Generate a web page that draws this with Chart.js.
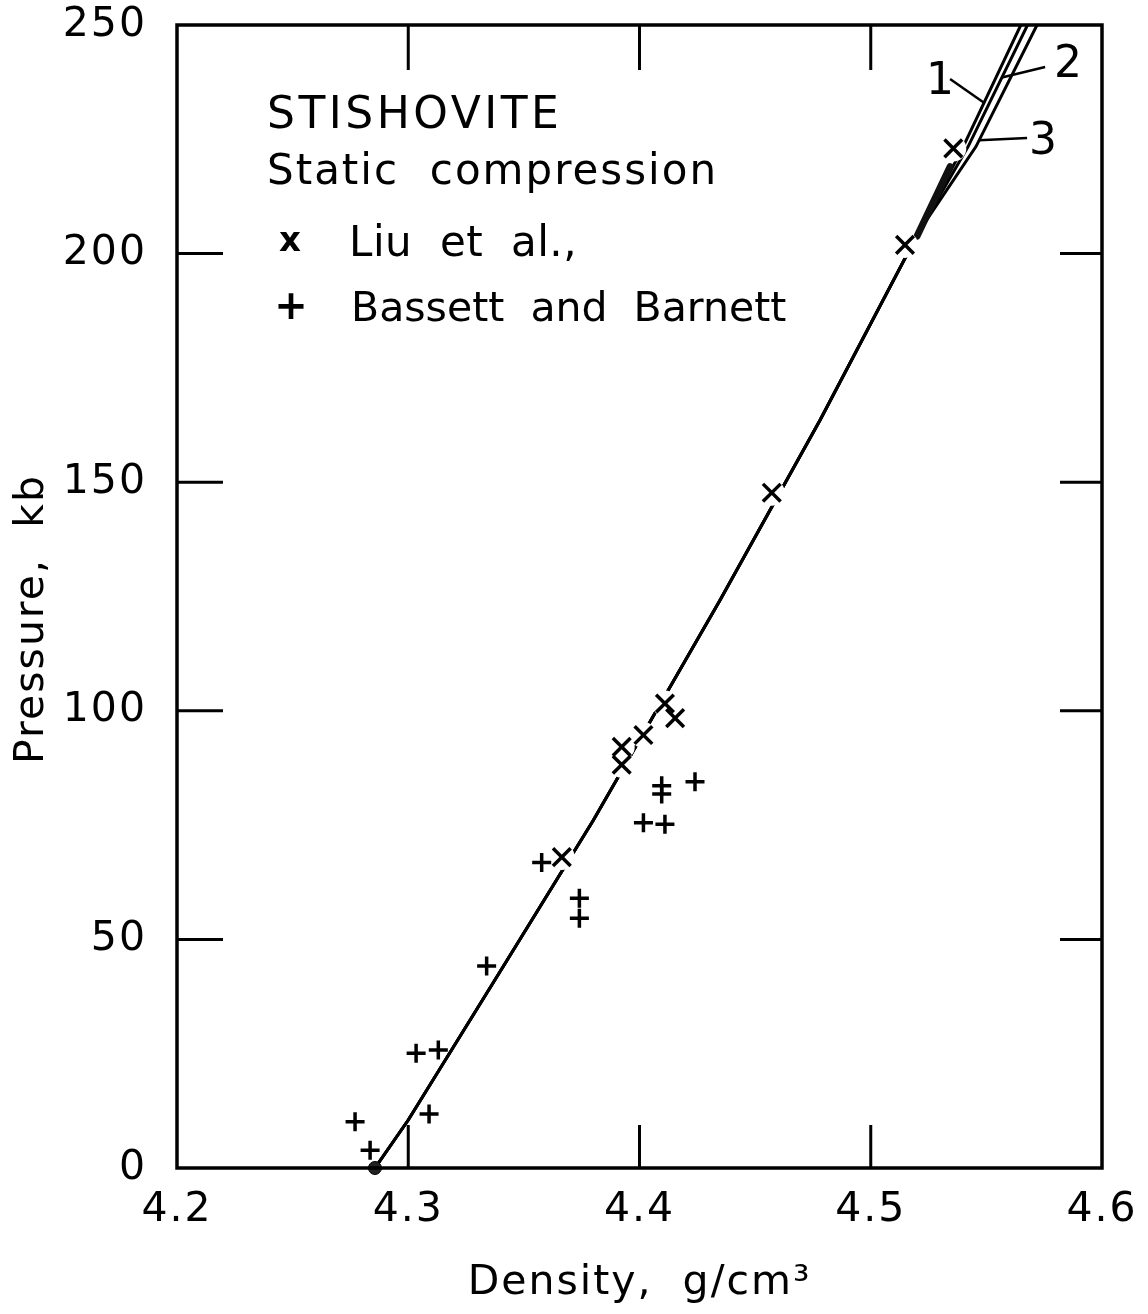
<!DOCTYPE html>
<html>
<head>
<meta charset="utf-8">
<script src="https://cdn.jsdelivr.net/npm/chart.js@4.4.0/dist/chart.umd.min.js"></script>
<style>
html,body{margin:0;padding:0;background:#fff;}
#wrap{width:1148px;height:1314px;position:relative;}
</style>
</head>
<body>
<div id="wrap"><canvas id="c"></canvas></div>
<script>
// ---- tick labels ----
const xTicks = [4.2, 4.3, 4.4, 4.5, 4.6];
const yTicks = [0, 50, 100, 150, 200, 250];

// ---- Liu et al. (x) ----
const liuDensity  = [4.3664, 4.3923, 4.3923, 4.4017, 4.4110, 4.4154, 4.4572, 4.5148, 4.5357];
const liuPressure = [68.0, 92.1, 88.2, 94.7, 101.6, 98.4, 147.7, 201.9, 223.0];

// ---- Bassett and Barnett (+) ----
const bbDensity  = [4.2770, 4.2835, 4.3034, 4.3130, 4.3090, 4.3339, 4.3577, 4.3740, 4.3740, 4.4017, 4.4110, 4.4096, 4.4096, 4.4240];
const bbPressure = [10.1, 3.9, 25.1, 25.8, 11.8, 44.2, 66.8, 59.0, 54.6, 75.5, 75.2, 83.6, 81.8, 84.5];

// ---- zero-pressure density ----
const zeroDensity  = [4.2856];
const zeroPressure = [0];

// ---- fitted compression curves 1, 2, 3 ----
const curve1Density  = [4.2856, 4.300, 4.340, 4.3801, 4.4348, 4.4781, 4.5213, 4.5400, 4.5649];
const curve1Pressure = [0, 10.5, 43.2, 76.1, 124.2, 163.6, 205.2, 223.4, 250];
const curve2Density  = [4.2856, 4.300, 4.340, 4.3801, 4.4348, 4.4781, 4.5213, 4.5421, 4.5678];
const curve2Pressure = [0, 10.5, 43.2, 76.1, 124.2, 163.6, 205.2, 223.4, 250];
const curve3Density  = [4.2856, 4.300, 4.340, 4.3801, 4.4348, 4.4781, 4.5213, 4.5455, 4.5719];
const curve3Pressure = [0, 10.5, 43.2, 76.1, 124.2, 163.6, 205.2, 223.4, 250];

// ---- overlapping band where the curves merge ----
const bandDensity  = [4.5200, 4.5343];
const bandPressure = [203.8, 219.0];

const curveNames = ['1', '2', '3'];

const FONT = "'DejaVu Sans', 'Liberation Sans', sans-serif";
const pts = (xs, ys) => xs.map((x, i) => ({x: x, y: ys[i]}));

function densityOnCurve(dens, pres, p) {
  for (let i = 1; i < pres.length; i++) {
    if (p <= pres[i]) {
      const t = (p - pres[i-1]) / (pres[i] - pres[i-1]);
      return dens[i-1] + t * (dens[i] - dens[i-1]);
    }
  }
  return dens[dens.length - 1];
}

// label annotations (data units): text position, leader start, pressure where leader meets curve
const curveLabelSpec = [
  {text: curveNames[0], tx: 4.5299, ty: 237.5, lx: 4.5343, ly: 238.2, curveP: 233.0, d: curve1Density, p: curve1Pressure},
  {text: curveNames[1], tx: 4.5853, ty: 241.2, lx: 4.5754, ly: 240.8, curveP: 238.5, d: curve2Density, p: curve2Pressure},
  {text: curveNames[2], tx: 4.5745, ty: 224.2, lx: 4.5676, ly: 225.3, curveP: 224.8, d: curve3Density, p: curve3Pressure}
];

const framePlugin = {
  id: 'frame',
  beforeDraw(chart) {
    chart.ctx.letterSpacing = '2px';
  },
  afterDraw(chart) {
    const ctx = chart.ctx;
    const a = chart.chartArea;
    const xs = chart.scales.x, ys = chart.scales.y;
    ctx.save();
    ctx.strokeStyle = '#000';
    ctx.fillStyle = '#000';
    ctx.lineWidth = 3.5;
    ctx.lineCap = 'square';
    ctx.strokeRect(a.left, a.top, a.right - a.left, a.bottom - a.top);
    ctx.lineWidth = 3;
    ctx.lineCap = 'butt';
    xTicks.slice(1, -1).forEach(v => {
      const px = xs.getPixelForValue(v);
      ctx.beginPath();
      ctx.moveTo(px, a.bottom); ctx.lineTo(px, a.bottom - 43);
      ctx.moveTo(px, a.top); ctx.lineTo(px, a.top + 45);
      ctx.stroke();
    });
    yTicks.slice(1, -1).forEach(v => {
      const py = ys.getPixelForValue(v);
      ctx.beginPath();
      ctx.moveTo(a.left, py); ctx.lineTo(a.left + 46, py);
      ctx.moveTo(a.right, py); ctx.lineTo(a.right - 42, py);
      ctx.stroke();
    });

    // curve labels and leaders
    ctx.letterSpacing = '0px';
    ctx.lineWidth = 2.5;
    ctx.font = '44px ' + FONT;
    ctx.textAlign = 'center';
    ctx.textBaseline = 'middle';
    curveLabelSpec.forEach(s => {
      const cx = densityOnCurve(s.d, s.p, s.curveP);
      ctx.beginPath();
      ctx.moveTo(xs.getPixelForValue(s.lx), ys.getPixelForValue(s.ly));
      ctx.lineTo(xs.getPixelForValue(cx), ys.getPixelForValue(s.curveP));
      ctx.stroke();
      ctx.fillText(s.text, xs.getPixelForValue(s.tx), ys.getPixelForValue(s.ty));
    });

    // legend block
    ctx.textAlign = 'left';
    ctx.font = '44px ' + FONT;
    ctx.letterSpacing = '3.5px';
    ctx.fillText('STISHOVITE', 267, 117);
    ctx.font = '42px ' + FONT;
    ctx.letterSpacing = '2px';
    ctx.fillText('Static  compression', 267, 173);
    ctx.letterSpacing = '0.5px';
    ctx.fillText('Liu  et  al.,', 349, 245);
    ctx.font = '41px ' + FONT;
    ctx.letterSpacing = '0px';
    ctx.fillText('Bassett  and  Barnett', 351, 310);
    ctx.textAlign = 'center';
    ctx.font = 'bold 34px ' + FONT;
    ctx.fillText('x', 290, 242);
    ctx.font = 'bold 40px ' + FONT;
    ctx.fillText('+', 291, 309);
    ctx.restore();
    ctx.letterSpacing = '0px';
  }
};

const lineDs = (label, xs, ys) => ({
  label: label, data: pts(xs, ys), showLine: true, borderColor: '#000', borderWidth: 3,
  pointRadius: 0, tension: 0, fill: false, order: 4
});

new Chart(document.getElementById('c'), {
  type: 'scatter',
  data: {
    datasets: [
      {label: 'Liu et al.', data: pts(liuDensity, liuPressure), pointStyle: 'crossRot', pointRadius: 12.5,
       borderColor: '#000', backgroundColor: '#000', pointBorderWidth: 3.5, order: 0},
      {label: 'Bassett and Barnett', data: pts(bbDensity, bbPressure), pointStyle: 'cross', pointRadius: 9.5,
       borderColor: '#000', backgroundColor: '#000', pointBorderWidth: 3.5, order: 0},
      {label: 'zero pressure', data: pts(zeroDensity, zeroPressure), pointStyle: 'circle', pointRadius: 6.5,
       borderColor: '#000', backgroundColor: '#222', pointBorderWidth: 1, clip: false, order: 0},
      {label: 'halo', data: pts(liuDensity, liuPressure), pointStyle: 'circle', pointRadius: 13,
       borderColor: '#fff', backgroundColor: '#fff', pointBorderWidth: 0, order: 1},
      {label: 'band', data: pts(bandDensity, bandPressure), showLine: true, borderColor: '#111', borderWidth: 7,
       borderCapStyle: 'round', pointRadius: 0, order: 2},
      lineDs('Curve 1', curve1Density, curve1Pressure),
      lineDs('Curve 2', curve2Density, curve2Pressure),
      lineDs('Curve 3', curve3Density, curve3Pressure)
    ]
  },
  options: {
    responsive: true,
    maintainAspectRatio: false,
    animation: false,
    devicePixelRatio: 1,
    layout: {padding: {top: 25, right: 46, left: 0, bottom: 0}},
    plugins: {legend: {display: false}, tooltip: {enabled: false}},
    scales: {
      x: {
        type: 'linear', position: 'bottom', min: 4.2, max: 4.6,
        afterBuildTicks: s => { s.ticks = xTicks.map(v => ({value: v})); },
        afterFit: s => { s.height = 146; s.paddingLeft = 0; s.paddingRight = 0; },
        grid: {display: false, drawTicks: false},
        border: {display: false},
        ticks: {color: '#000', padding: 18, maxRotation: 0, autoSkip: false,
                font: {family: FONT, size: 41}, callback: v => Number(v).toFixed(1)},
        title: {display: true, text: 'Density,  g/cm³', color: '#000',
                font: {family: FONT, size: 41}, padding: {top: 0, bottom: 6}}
      },
      y: {
        type: 'linear', position: 'left', min: 0, max: 250,
        afterBuildTicks: s => { s.ticks = yTicks.map(v => ({value: v})); },
        afterFit: s => { s.width = 177; s.paddingTop = 0; s.paddingBottom = 0; },
        grid: {display: false, drawTicks: false},
        border: {display: false},
        ticks: {color: '#000', padding: 30, autoSkip: false,
                font: {family: FONT, size: 41}, callback: v => String(v)},
        title: {display: true, text: 'Pressure,  kb   ', color: '#000',
                font: {family: FONT, size: 41}, padding: {top: 8, bottom: 0}}
      }
    }
  },
  plugins: [framePlugin]
});
</script>
</body>
</html>
